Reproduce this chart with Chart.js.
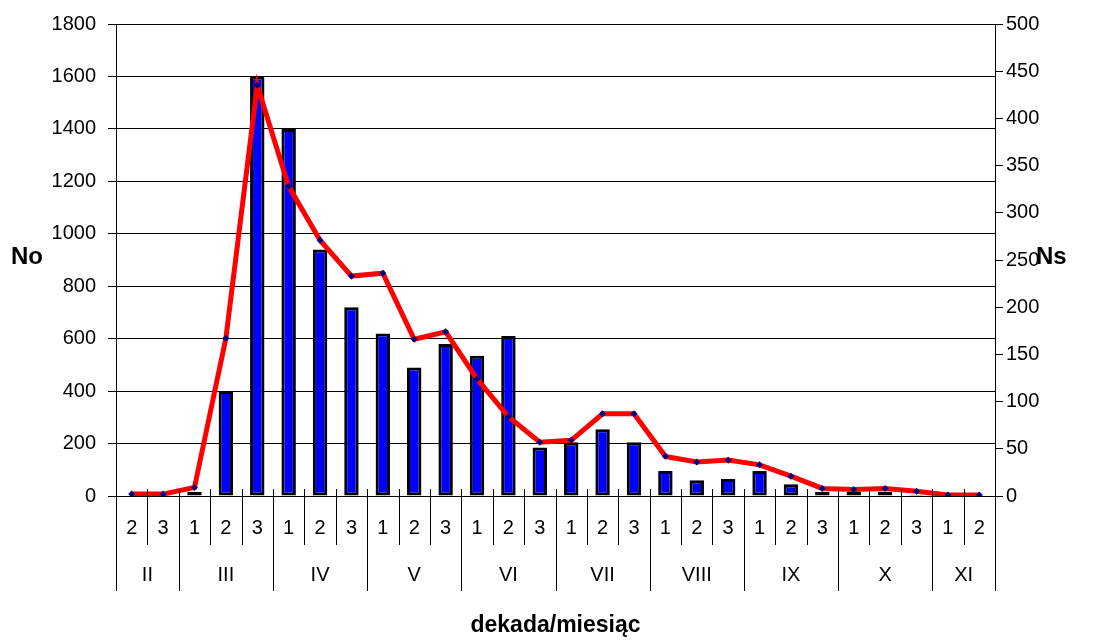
<!DOCTYPE html>
<html>
<head>
<meta charset="utf-8">
<script src="https://cdn.jsdelivr.net/npm/chart.js@4.4.0/dist/chart.umd.min.js"></script>
<style>
  html, body { margin: 0; padding: 0; background: #fff; }
  #wrap { width: 1099px; height: 640px; }
</style>
</head>
<body>
<div id="wrap"><canvas id="myChart" width="1099" height="640"></canvas></div>
<script>
// decade labels (x ticks) and months below them
const dekady = ["2", "3", "1", "2", "3", "1", "2", "3", "1", "2", "3", "1", "2", "3",
  "1", "2", "3", "1", "2", "3", "1", "2", "3", "1", "2", "3", "1", "2"];
const months = ["II", "III", "IV", "V", "VI", "VII", "VIII", "IX", "X", "XI"];
const monthSpans = [2, 3, 3, 3, 3, 3, 3, 3, 3, 2];

// No - bars, left axis
const noValues = [2, 0, 15, 400, 1600, 1400, 940, 720, 620, 490, 580, 535, 610, 185,
  205, 255, 205, 95, 60, 65, 95, 45, 15, 15, 15, 5, 0, 0];
// Ns - line, right axis
const nsValues = [2, 2, 9, 167, 435, 328, 271, 233, 236, 166, 174, 124, 84, 57,
  59, 87, 87, 42, 36, 38, 33, 21, 8, 7, 8, 5, 1, 1];

const FONT = "'Liberation Sans', Arial, sans-serif";

// draws separators, month labels and axis titles
const axisDecor = {
  id: "axisDecor",
  afterDraw(chart) {
    const ctx = chart.ctx;
    const x = chart.scales.x;
    const area = chart.chartArea;
    const n = dekady.length;
    const edge = (i) => {
      if (i <= 0) return area.left;
      if (i >= n) return area.right;
      return (x.getPixelForValue(i - 1) + x.getPixelForValue(i)) / 2;
    };
    const monthEdges = [0];
    monthSpans.forEach((s) => monthEdges.push(monthEdges[monthEdges.length - 1] + s));

    ctx.save();
    ctx.strokeStyle = "#000";
    ctx.lineWidth = 1;
    for (let i = 0; i <= n; i++) {
      const px = Math.round(edge(i)) + 0.5;
      const long = monthEdges.includes(i);
      ctx.beginPath();
      ctx.moveTo(px, area.bottom - 7);
      ctx.lineTo(px, long ? area.bottom + 95 : area.bottom + 49);
      ctx.stroke();
    }

    ctx.fillStyle = "#000";
    ctx.font = "20px " + FONT;
    ctx.textAlign = "center";
    ctx.textBaseline = "middle";
    months.forEach((m, k) => {
      const cx = (edge(monthEdges[k]) + edge(monthEdges[k + 1])) / 2;
      ctx.fillText(m, cx, area.bottom + 79);
    });

    ctx.font = "bold 23px " + FONT;
    ctx.fillText("dekada/miesiąc", (area.left + area.right) / 2, area.bottom + 130);
    ctx.textAlign = "left";
    ctx.font = "bold 24px " + FONT;
    ctx.fillText("No", 11, 257);
    ctx.fillText("Ns", 1036, 257);
    ctx.restore();
  },
};

const plain = (v) => String(v);

const context = document.getElementById("myChart").getContext("2d");
const config = {
  type: "bar",
  data: {
    labels: dekady,
    datasets: [
      {
        type: "line",
        label: "Ns",
        data: nsValues,
        yAxisID: "y1",
        borderColor: "#ff0000",
        borderWidth: 5,
        tension: 0,
        pointStyle: "rectRot",
        pointRadius: 3.5,
        pointBackgroundColor: "#000080",
        pointBorderColor: "#000080",
        pointBorderWidth: 0,
        order: 0,
      },
      {
        label: "No",
        data: noValues,
        yAxisID: "y",
        backgroundColor: "#0000ff",
        borderColor: "#000000",
        borderWidth: 3,
        borderSkipped: false,
        barPercentage: 0.46,
        categoryPercentage: 1,
        order: 1,
      },
    ],
  },
  options: {
    responsive: false,
    animation: false,
    layout: { padding: { top: 23 } },
    plugins: {
      legend: { display: false },
      tooltip: { enabled: false },
    },
    scales: {
      x: {
        grid: { display: false, drawTicks: false },
        border: { display: false },
        ticks: {
          color: "#000",
          font: { family: FONT, size: 20 },
          padding: 20,
          maxRotation: 0,
          autoSkip: false,
        },
        afterFit: (scale) => { scale.height = 144; },
      },
      y: {
        position: "left",
        min: 0,
        max: 1800,
        ticks: {
          stepSize: 200,
          color: "#000",
          font: { family: FONT, size: 20 },
          padding: 12,
          callback: plain,
        },
        grid: { color: "#000", tickLength: 8, lineWidth: 1 },
        border: { color: "#000", width: 1 },
        afterFit: (scale) => { scale.width = 116; },
      },
      y1: {
        position: "right",
        min: 0,
        max: 500,
        ticks: {
          stepSize: 50,
          color: "#000",
          font: { family: FONT, size: 20 },
          padding: 3,
          callback: plain,
        },
        grid: { drawOnChartArea: false, color: "#000", tickLength: 8 },
        border: { color: "#000", width: 1 },
        afterFit: (scale) => { scale.width = 104; },
      },
    },
  },
  plugins: [axisDecor],
};

const myChart = new Chart(context, config);
</script>
</body>
</html>
